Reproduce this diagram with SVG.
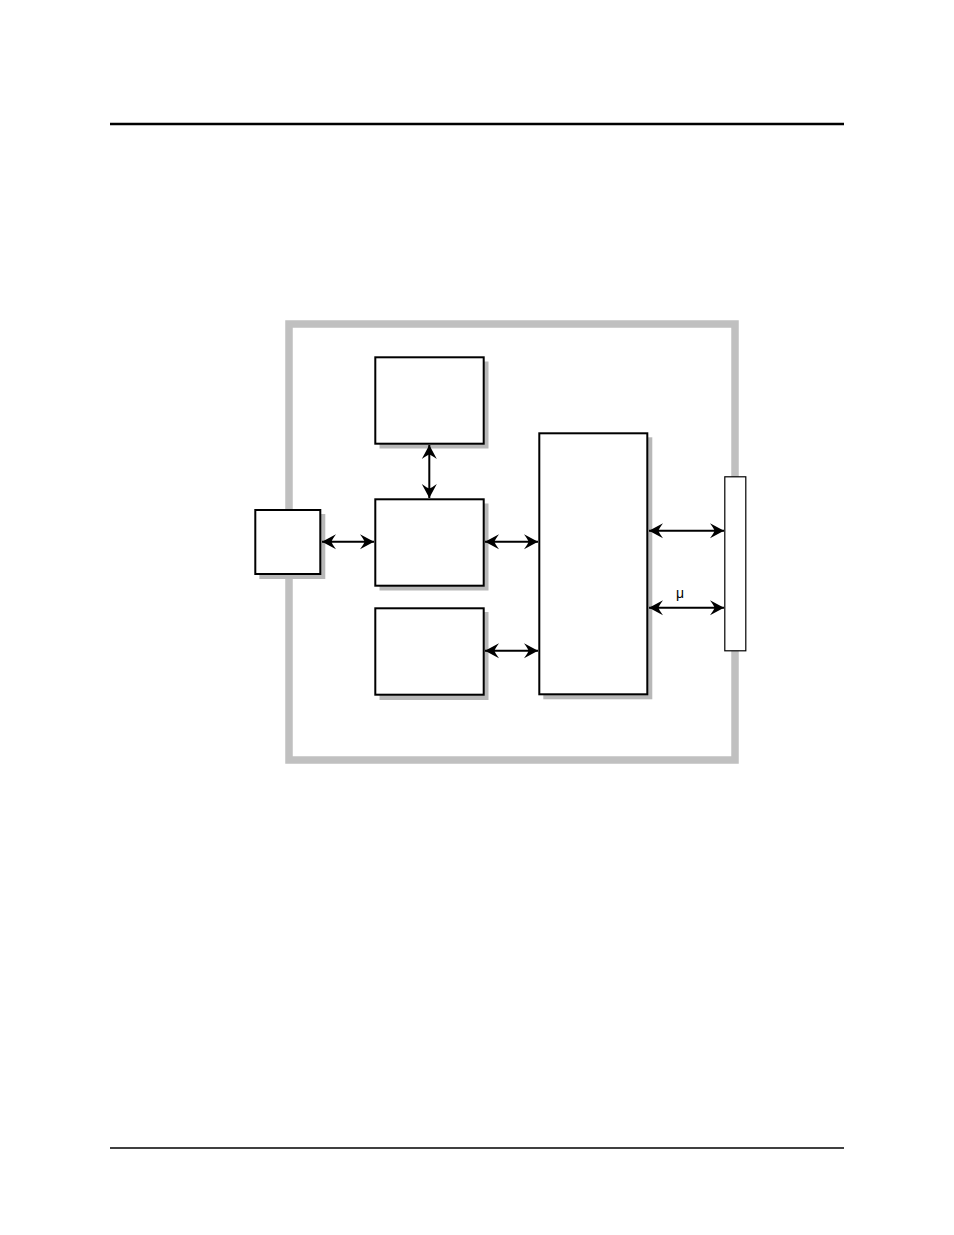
<svg xmlns="http://www.w3.org/2000/svg" width="954" height="1235" viewBox="0 0 954 1235">
<style>
.box{fill:#fff;stroke:#000;stroke-width:2}
.shadow{fill:#b8b8b8;stroke:none}
.conn{stroke:#000;stroke-width:2;fill:none;marker-start:url(#ah);marker-end:url(#ah)}
.rule{stroke:#000}
text{font-family:"Liberation Sans",Arial,sans-serif}
</style>
<defs>
<marker id="ah" markerUnits="userSpaceOnUse" viewBox="-15 -8 16 16" refX="0" refY="0" markerWidth="16" markerHeight="16" orient="auto-start-reverse">
<path d="M0,0 L-14,-7.5 Q-10,-2 -9.5,0 Q-10,2 -14,7.5 Z" fill="#000"/>
</marker>
</defs>
<rect width="954" height="1235" fill="#fff"/>
<line class="rule" x1="110" y1="124" x2="844" y2="124" stroke-width="2.3"/>
<line class="rule" x1="110" y1="1148" x2="844" y2="1148" stroke-width="1.3"/>
<g id="frame">
<rect x="289" y="324" width="446" height="436" fill="none" stroke="#c0c0c0" stroke-width="7.5"/>
</g>
<g id="box-top">
<rect class="shadow" x="379.5" y="361.5" width="109" height="87"/>
<rect class="box" x="375.3" y="357.3" width="108.4" height="86.4"/>
</g>
<g id="box-mid">
<rect class="shadow" x="379.5" y="503.5" width="109" height="87"/>
<rect class="box" x="375.3" y="499.3" width="108.4" height="86.4"/>
</g>
<g id="box-bottom">
<rect class="shadow" x="379.5" y="612" width="109" height="88"/>
<rect class="box" x="375.3" y="608.3" width="108.4" height="86.4"/>
</g>
<g id="box-left">
<rect class="shadow" x="259.3" y="514" width="66" height="65"/>
<rect class="box" x="255.3" y="510" width="65" height="64"/>
</g>
<g id="box-big">
<rect class="shadow" x="543.3" y="437.3" width="109" height="262"/>
<rect class="box" x="539.3" y="433.3" width="108" height="261"/>
</g>
<g id="bar-right">
<rect x="724.8" y="476.8" width="21" height="174" fill="#fff" stroke="#000" stroke-width="1.2"/>
</g>
<g id="connectors">
<line class="conn" x1="429.3" y1="445" x2="429.3" y2="498"/>
<line class="conn" x1="322" y1="541.7" x2="374" y2="541.7"/>
<line class="conn" x1="485" y1="541.7" x2="538" y2="541.7"/>
<line class="conn" x1="485" y1="650.7" x2="538" y2="650.7"/>
<line class="conn" x1="649" y1="530.7" x2="724" y2="530.7"/>
<line class="conn" x1="649" y1="607.7" x2="724" y2="607.7"/>
<text x="680" y="598" font-size="14" text-anchor="middle">μ</text>
</g>
</svg>
